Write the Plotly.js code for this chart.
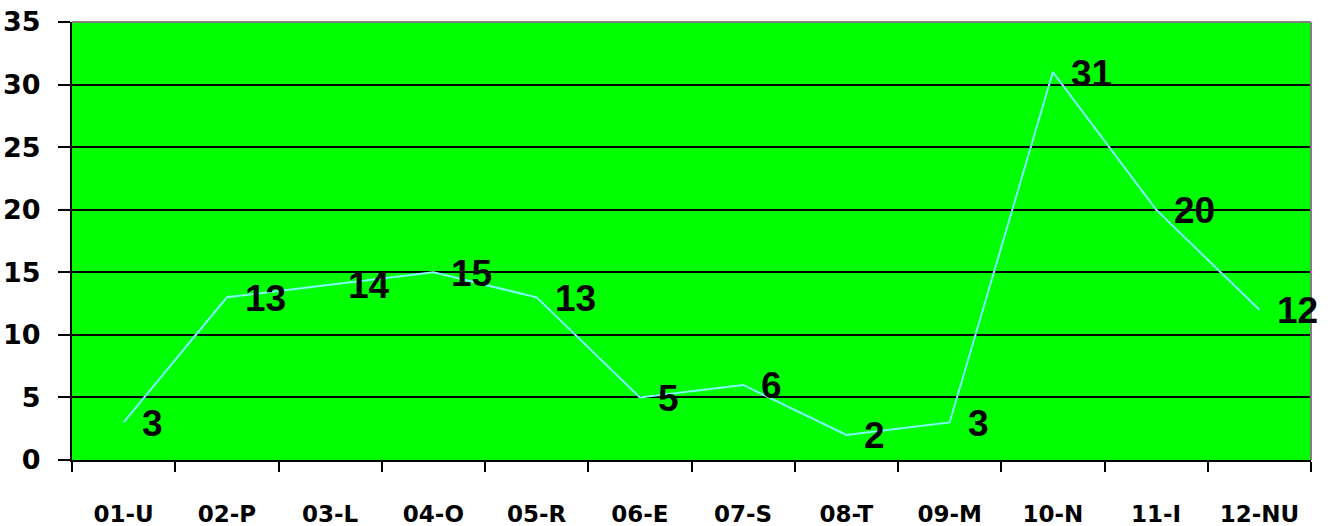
<!DOCTYPE html>
<html>
<head>
<meta charset="utf-8">
<script src="https://cdn.plot.ly/plotly-3.0.1.min.js"></script>
<style>
html,body{margin:0;padding:0;background:#fff;}
#chart{width:1341px;height:526px;}
</style>
</head>
<body>
<div id="chart"></div>
<script>
const categories = ["01-U","02-P","03-L","04-O","05-R","06-E","07-S","08-T","09-M","10-N","11-I","12-NU"];
const values = [3,13,14,15,13,5,6,2,3,31,20,12];
const yTicks = [0,5,10,15,20,25,30,35];

const trace = {
  x: categories,
  y: values,
  type: "scatter",
  mode: "lines",
  line: {color: "#80FFFF", width: 2},
  hoverinfo: "skip"
};

const annotations = categories.map((c, i) => ({
  x: c, y: values[i], xref: "x", yref: "y",
  text: String(values[i]),
  showarrow: false,
  xanchor: "left", yanchor: "middle",
  xshift: 16, yshift: -1,
  font: {family: "Liberation Sans, Arial, sans-serif", size: 37, color: "#000", weight: 700}
}));

const layout = {
  width: 1341, height: 526,
  margin: {l: 72, r: 30, t: 22, b: 66},
  paper_bgcolor: "#ffffff",
  plot_bgcolor: "#00FF00",
  showlegend: false,
  xaxis: {
    type: "category",
    range: [-0.5, 11.5],
    tickson: "boundaries",
    ticks: "outside", ticklen: 10, tickwidth: 2, tickcolor: "#000",
    showline: true, linecolor: "#000", linewidth: 2,
    showgrid: false, zeroline: false,
    ticklabelstandoff: 32,
    tickfont: {family: "DejaVu Sans, sans-serif", size: 23, color: "#000", weight: 700}
  },
  yaxis: {
    range: [0, 35],
    tickvals: yTicks,
    ticktext: yTicks.map(String),
    ticks: "outside", ticklen: 12, tickwidth: 2, tickcolor: "#000",
    showline: true, linecolor: "#000", linewidth: 2,
    showgrid: true, gridcolor: "#000", gridwidth: 2,
    zeroline: false,
    ticklabelstandoff: 12,
    tickfont: {family: "DejaVu Sans, sans-serif", size: 27, color: "#000", weight: 700}
  },
  shapes: [
    {type: "line", xref: "paper", yref: "paper", x0: 0, x1: 1, y0: 1, y1: 1, line: {color: "#808080", width: 2}},
    {type: "line", xref: "paper", yref: "paper", x0: 1, x1: 1, y0: 0, y1: 1, line: {color: "#808080", width: 2}}
  ],
  annotations: annotations
};

Plotly.newPlot("chart", [trace], layout, {displayModeBar: false, staticPlot: true});
</script>
</body>
</html>
